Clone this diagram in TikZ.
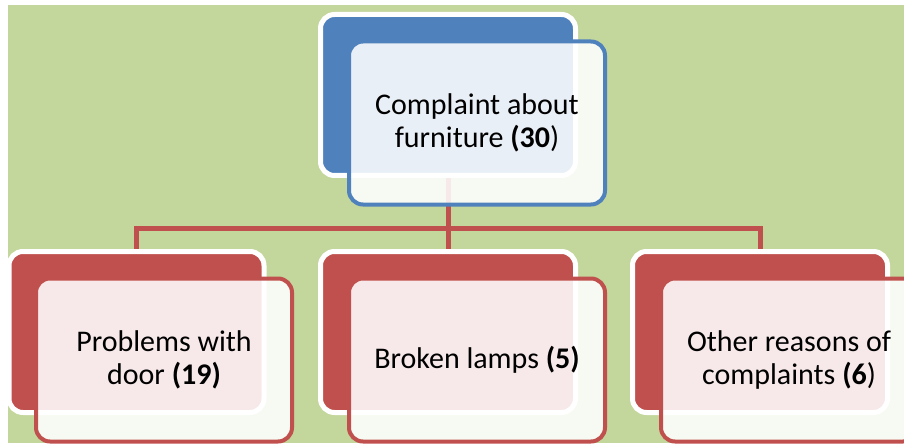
\documentclass[tikz,border=0pt]{standalone}
\usepackage{fontspec}
\setmainfont{Carlito}
\definecolor{bggreen}{HTML}{C3D69B}
\definecolor{rootblue}{HTML}{4F81BD}
\definecolor{leafred}{HTML}{C0504D}
\begin{document}
\begin{tikzpicture}[x=1pt,y=1pt,
        backbox/.style={rectangle, rounded corners=14pt, draw=white, line width=5pt, minimum width=255pt, minimum height=161pt},
        frontbox/.style={rectangle, rounded corners=14pt, line width=4pt, fill=white, fill opacity=0.88, text opacity=1, minimum width=256pt, minimum height=163pt, align=center, font=\fontsize{30}{33}\selectfont},
        link/.style={draw=leafred, line width=5pt}]
        \useasboundingbox (0,0) rectangle (904,445);
        \fill[bggreen] (8,2) rectangle (904,440);

        \node[backbox, fill=rootblue] (rootback) at (448, 350) {};
        \node[backbox, fill=leafred] (doorback) at (136.5, 113) {};
        \node[backbox, fill=leafred] (lampback) at (448, 113) {};
        \node[backbox, fill=leafred] (otherback) at (760, 113) {};

        \coordinate (bar) at (448, 217);
        \draw[link] (rootback.south) -- (bar) -| (doorback.north);
        \draw[link] (bar) -- (lampback.north);
        \draw[link] (bar) -| (otherback.north);

        \node[frontbox, draw=rootblue] (root) at (477, 322) {Complaint about\\furniture \textbf{(30}){}};
        \node[frontbox, draw=leafred] (door) at (164, 85) {Problems with\\door \textbf{(19)}};
        \node[frontbox, draw=leafred] (lamp) at (477, 85) {Broken lamps \textbf{(5)}};
        \node[frontbox, draw=leafred] (other) at (789, 85) {Other reasons of\\complaints \textbf{(6})};

    \end{tikzpicture}
\end{document}
